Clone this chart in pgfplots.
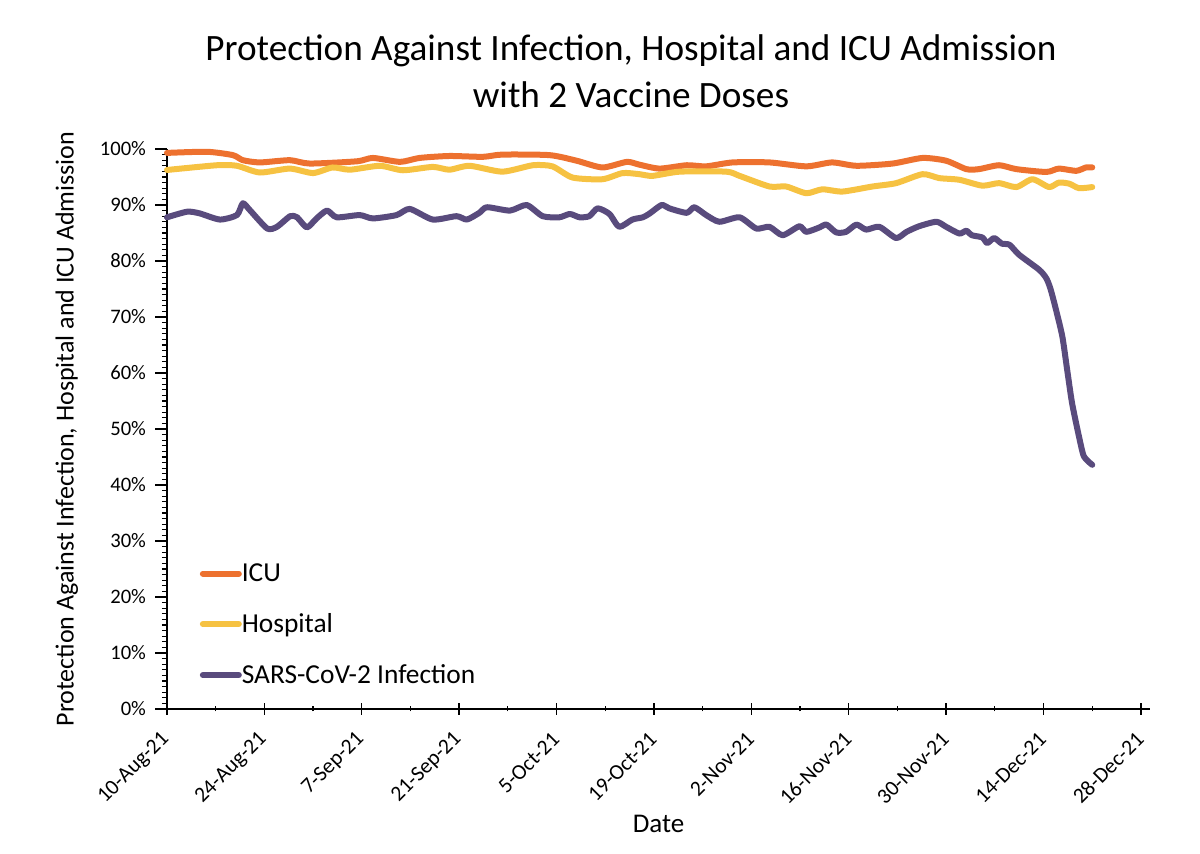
\documentclass[border=0pt]{standalone}
\usepackage{fontspec}
\setmainfont{Carlito}
\usepackage{pgfplots}
\pgfplotsset{compat=1.18}
\definecolor{icu}{RGB}{237,113,47}
\definecolor{hosp}{RGB}{246,194,66}
\definecolor{inf}{RGB}{89,75,125}
\begin{document}
\begin{tikzpicture}
\useasboundingbox (0,0) rectangle (600pt,427pt);
\node[align=center, font=\fontsize{18.6}{23.5}\selectfont] at (315.5pt,391.5pt) {Protection Against Infection, Hospital and ICU Admission\\with 2 Vaccine Doses};
\begin{axis}[
  at={(83.5pt,72.5pt)}, anchor=south west,
  scale only axis, width=491.5pt, height=280pt,
  xmin=0, xmax=141.3, ymin=0, ymax=100,
  axis lines=left, axis line style={-, line width=0.8pt, black},
  xtick={0,14,...,140},
  xticklabels={10-Aug-21,24-Aug-21,7-Sep-21,21-Sep-21,5-Oct-21,19-Oct-21,2-Nov-21,16-Nov-21,30-Nov-21,14-Dec-21,28-Dec-21},
  minor xtick={7,21,...,133},
  ytick={0,10,...,100},
  yticklabels={0\%,10\%,20\%,30\%,40\%,50\%,60\%,70\%,80\%,90\%,100\%},
  minor y tick num=9,
  xtick align=center, ytick align=outside,
  major tick length=6pt, minor tick length=2.5pt,
  tick style={black, line width=0.7pt},
  minor tick style={black, line width=0.6pt},
  /pgf/number format/assume math mode=true,
  yticklabel style={font=\fontsize{10.3}{12}\selectfont, xshift=-1pt},
  xticklabel style={font=\fontsize{10.8}{12}\selectfont, xshift=2pt, yshift=-8pt, rotate=45, anchor=east},
  xlabel={Date}, ylabel={Protection Against Infection, Hospital and ICU Admission},
  xlabel style={font=\fontsize{13.5}{15}\selectfont, yshift=4pt},
  ylabel style={font=\fontsize{13}{15}\selectfont, yshift=4pt},
  legend style={at={(0.033,0.268)}, anchor=north west, draw=none, fill=none,
    font=\fontsize{13.7}{15}\selectfont, row sep=10.5pt, column sep=-2pt, inner sep=0pt},
  legend cell align=left,
  legend image code/.code={\draw[#1, line width=3pt, line cap=round] (0pt,0pt) -- (18pt,0pt);},
  every axis plot/.append style={line width=3pt, smooth, tension=0.4, line cap=round, line join=round},
  clip=false,
]
\addplot[icu] coordinates {
(0,99.3)(5.74,99.5)(9.48,98.9)(10.9,98.0)(13.35,97.6)(17.66,98.0)(20.5,97.4)(27.3,97.8)(29.6,98.4)(33.5,97.7)(36.3,98.4)(40.6,98.75)(45.4,98.6)(48.2,99.0)(55.0,98.9)(58.9,97.9)(62.6,96.7)(66.1,97.7)(67.9,97.2)(70.8,96.5)(74.7,97.1)(77.5,96.9)(81.3,97.6)(86.6,97.6)(91.9,96.9)(95.6,97.6)(99.1,97.0)(104.3,97.4)(108.6,98.4)(112.0,97.9)(114.9,96.4)(116.7,96.4)(119.6,97.1)(122.1,96.4)(126.4,95.9)(128.2,96.5)(130.7,96.1)(132.1,96.7)(133,96.7)
};
\addlegendentry{ICU}
\addplot[hosp] coordinates {
(0,96.25)(7.2,97.1)(10.05,97.0)(13.35,95.8)(17.66,96.5)(21.0,95.7)(23.8,96.7)(26.3,96.3)(30.6,97.0)(33.9,96.2)(38.2,96.8)(40.6,96.3)(43.5,97.0)(48.2,95.95)(52.6,97.1)(55.4,96.9)(58.3,94.9)(62.6,94.6)(65.5,95.7)(67.9,95.5)(69.8,95.2)(73.7,95.95)(80.4,95.95)(82.3,95.2)(86.6,93.3)(89.0,93.3)(91.9,92.1)(94.2,92.8)(97.1,92.4)(101.4,93.3)(104.8,93.9)(108.6,95.5)(111.0,94.8)(113.9,94.5)(117.2,93.45)(119.6,93.9)(122.1,93.2)(124.4,94.6)(126.8,93.2)(128.2,94.0)(129.7,93.8)(131.1,93.0)(133,93.2)
};
\addlegendentry{Hospital}
\addplot[inf] coordinates {
(0,87.8)(2.9,88.8)(4.7,88.5)(7.6,87.4)(10.05,88.2)(10.9,90.3)(11.9,89.1)(14.4,85.8)(15.8,86.1)(17.7,88.0)(18.7,87.8)(20.1,86.0)(21.5,87.6)(23.0,89.0)(24.4,87.8)(27.7,88.2)(29.6,87.6)(33.0,88.2)(34.9,89.3)(38.2,87.4)(41.6,88.0)(43.1,87.4)(44.9,88.6)(46.0,89.6)(49.3,89.0)(51.7,90.0)(54.0,88.0)(56.4,87.8)(57.9,88.4)(59.3,87.8)(60.7,88.0)(61.9,89.4)(63.6,88.4)(65.0,86.1)(66.9,87.4)(68.4,87.8)(69.4,88.5)(71.1,90.0)(72.2,89.4)(74.7,88.6)(75.8,89.6)(77.5,88.2)(79.4,87.0)(82.3,87.8)(84.7,85.8)(86.6,86.1)(88.5,84.6)(90.9,86.2)(91.9,85.2)(93.8,86.0)(94.8,86.5)(96.2,85.1)(97.6,85.2)(99.1,86.5)(100.5,85.6)(102.4,86.1)(104.8,84.1)(106.3,85.2)(108.1,86.2)(110.6,87.0)(112.0,86.1)(113.9,84.9)(114.9,85.4)(115.7,84.6)(117.2,84.2)(117.9,83.2)(118.9,84.1)(120.0,83.1)(121.1,82.9)(122.5,81.1)(125.4,78.4)(126.4,76.9)(127.0,75.0)(127.8,71.25)(128.7,66.5)(129.4,60.5)(130.1,54.6)(131.1,48.6)(131.8,45.1)(133.0,43.6)
};
\addlegendentry{SARS-CoV-2 Infection}
\end{axis}
\end{tikzpicture}
\end{document}
